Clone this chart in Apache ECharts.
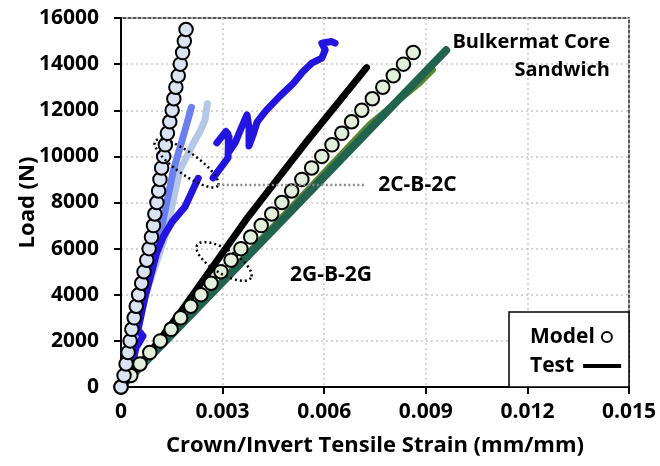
<!DOCTYPE html>
<html>
<head>
<meta charset="utf-8">
<script src="https://cdn.jsdelivr.net/npm/echarts@6/dist/echarts.min.js"></script>
<style>
  html, body { margin: 0; padding: 0; background: #fff; }
  #chart { width: 660px; height: 466px; }
</style>
</head>
<body>
<div id="chart"></div>
<script>
// Axis ticks
const strainTicks = [0, 0.003, 0.006, 0.009, 0.012, 0.015];
const loadTicks = [0, 2000, 4000, 6000, 8000, 10000, 12000, 14000, 16000];

// Model, 2C-B-2C (carbon skins)
const model2CLoad = [0, 500, 1000, 1500, 2000, 2500, 3000, 3500, 4000, 4500, 5000, 5500, 6000, 6500, 7000, 7500,
  8000, 8500, 9000, 9500, 10000, 10500, 11000, 11500, 12000, 12500, 13000, 13500, 14000, 14500, 15000, 15500];
const model2CStrain = [0, 0.00009, 0.00015, 0.00021, 0.00027, 0.00032, 0.00039, 0.00045, 0.00052, 0.00061, 0.00068,
  0.00076, 0.00083, 0.00090, 0.00096, 0.00100, 0.00106, 0.00111, 0.00115, 0.00120, 0.00126, 0.00131, 0.00137,
  0.00144, 0.00151, 0.00156, 0.00162, 0.00169, 0.00175, 0.00182, 0.00187, 0.00192];

// Model, 2G-B-2G (glass skins)
const model2GLoad = [0, 500, 1000, 1500, 2000, 2500, 3000, 3500, 4000, 4500, 5000, 5500, 6000, 6500, 7000, 7500,
  8000, 8500, 9000, 9500, 10000, 10500, 11000, 11500, 12000, 12500, 13000, 13500, 14000, 14500];
const model2GStrain = [0, 0.00029, 0.00056, 0.00085, 0.00116, 0.00148, 0.00176, 0.00206, 0.00236, 0.00266, 0.00295,
  0.00325, 0.00354, 0.00383, 0.00414, 0.00445, 0.00475, 0.00504, 0.00534, 0.00563, 0.00593, 0.00623, 0.00652,
  0.00681, 0.00711, 0.00742, 0.00773, 0.00804, 0.00834, 0.00863];

// Tests, 2G-B-2G
const testBlackStrain = [0, 0.00057, 0.00112, 0.00174, 0.00376, 0.00548, 0.00725];
const testBlackLoad   = [0, 1000, 2000, 3210, 7390, 10640, 13850];
const testTealStrain  = [0, 0.00480, 0.00960];
const testTealLoad    = [0, 7290, 14600];
const testOliveStrain = [0, 0.00233, 0.00470, 0.00735, 0.00883, 0.00921];
const testOliveLoad   = [0, 3600, 7290, 11410, 13190, 13750];

// Tests, 2C-B-2C
const testLightStrain  = [0, 0.00077, 0.00130, 0.00174, 0.00219, 0.00233, 0.00248, 0.00255];
const testLightLoad    = [0, 4210, 6520, 9410, 10720, 11060, 11580, 12280];
const testMediumStrain = [0, 0.00075, 0.00114, 0.00155, 0.00192, 0.00208];
const testMediumLoad   = [0, 4350, 6520, 9410, 11290, 12130];
const testDarkAStrain  = [0, 0.00032, 0.00044, 0.00065, 0.00050, 0.00071, 0.00105, 0.00125, 0.00151, 0.00189, 0.00228];
const testDarkALoad    = [0, 880, 1690, 2210, 2470, 3900, 5800, 6520, 7160, 7820, 9050];
const testDarkBStrain  = [0.00272, 0.00316, 0.00317, 0.00316, 0.00310, 0.00283, 0.00310, 0.00319, 0.00319, 0.00337,
  0.00354, 0.00372, 0.00378, 0.00378, 0.00390, 0.00402, 0.00430, 0.00470, 0.00509, 0.00537, 0.00563, 0.00593,
  0.00603, 0.00593, 0.00622, 0.00632];
const testDarkBLoad    = [9066, 9934, 10498, 10975, 11084, 10585, 11084, 10845, 10194, 10585,
  11192, 11799, 11235, 10455, 10932, 11496, 12016, 12624, 13175, 13665, 14042, 14259,
  14619, 14910, 14979, 14910];

const FONT = '"Open Sans", "Noto Sans", sans-serif';
const zip = (xs, ys) => xs.map((x, i) => [x, ys[i]]);

function testLine(name, xs, ys, color, width, z) {
  return {
    name: name, type: 'line', data: zip(xs, ys), symbol: 'none', showSymbol: false,
    lineStyle: { color: color, width: width, cap: 'round', join: 'round' },
    itemStyle: { color: color }, z: z, silent: true
  };
}
function modelPoints(xs, ys, fill) {
  return {
    name: 'Model', type: 'scatter', data: zip(xs, ys), symbol: 'circle', symbolSize: 13.5,
    itemStyle: { color: fill, borderColor: '#000', borderWidth: 2, opacity: 1 }, z: 5, silent: true
  };
}

const option = {
  animation: false,
  backgroundColor: '#fff',
  grid: { left: 121, top: 18, width: 508, height: 369, show: true, borderColor: '#222', borderWidth: 1.5 },
  xAxis: {
    type: 'value', min: strainTicks[0], max: strainTicks[strainTicks.length - 1],
    interval: strainTicks[1] - strainTicks[0],
    name: 'Crown/Invert Tensile Strain (mm/mm)', nameLocation: 'middle', nameGap: 48,
    nameTextStyle: { fontFamily: FONT, fontWeight: 'bold', fontSize: 22, color: '#000' },
    axisLine: { lineStyle: { color: '#000', width: 2 } },
    axisTick: { show: true, inside: false, length: 7, lineStyle: { color: '#000', width: 2 } },
    axisLabel: {
      margin: 15, fontFamily: FONT, fontWeight: 'bold', fontSize: 21, color: '#000',
      formatter: v => (v === 0 ? '0' : v.toFixed(3))
    },
    splitLine: { show: true, lineStyle: { color: '#c8c8c8', width: 1.5, type: [2, 3] } }
  },
  yAxis: {
    type: 'value', min: loadTicks[0], max: loadTicks[loadTicks.length - 1],
    interval: loadTicks[1] - loadTicks[0],
    name: 'Load (N)', nameLocation: 'middle', nameGap: 82, nameRotate: 90, nameMoveOverlap: false,
    nameTextStyle: { fontFamily: FONT, fontWeight: 'bold', fontSize: 22, color: '#000' },
    axisLine: { lineStyle: { color: '#000', width: 2 } },
    axisTick: { show: true, inside: false, length: 7, lineStyle: { color: '#000', width: 2 } },
    axisLabel: {
      margin: 22, fontFamily: FONT, fontWeight: 'bold', fontSize: 21, color: '#000',
      formatter: v => String(v)
    },
    splitLine: { show: true, lineStyle: { color: '#c8c8c8', width: 1.5, type: [2, 3] } }
  },
  legend: [
    {
      left: 530, top: 325, orient: 'horizontal', align: 'right', padding: 0, selectedMode: false, z: 12,
      itemWidth: 14, itemHeight: 10,
      textStyle: { fontFamily: FONT, fontWeight: 'bold', fontSize: 21, color: '#000', lineHeight: 24 },
      data: [{ name: 'Model', icon: 'circle', itemStyle: { color: '#fff', borderColor: '#000', borderWidth: 2 } }]
    },
    {
      left: 530, top: 354, orient: 'horizontal', align: 'right', padding: 0, selectedMode: false, z: 12,
      itemWidth: 38, itemHeight: 4,
      textStyle: { fontFamily: FONT, fontWeight: 'bold', fontSize: 21, color: '#000', lineHeight: 24, padding: [0, 4, 0, 0] },
      data: [{ name: 'Test', icon: 'rect', itemStyle: { color: '#000', borderWidth: 0 } }]
    }
  ],
  series: [
    testLine('Test', testBlackStrain, testBlackLoad, '#000000', 7, 3),
    testLine('Test', testOliveStrain, testOliveLoad, '#5a8733', 6, 2),
    testLine('Test', testTealStrain, testTealLoad, '#22634f', 8, 2),
    testLine('Test', testLightStrain, testLightLoad, '#b4c7e7', 7, 2),
    testLine('Test', testMediumStrain, testMediumLoad, '#6a7ff0', 7, 2),
    testLine('Test', testDarkAStrain, testDarkALoad, '#2414e0', 7, 3),
    testLine('Test', testDarkBStrain, testDarkBLoad, '#2414e0', 7, 3),
    modelPoints(model2GStrain, model2GLoad, '#e2efda'),
    modelPoints(model2CStrain, model2CLoad, '#dae3f3')
  ]
};

const chart = echarts.init(document.getElementById('chart'), null, { renderer: 'canvas' });
chart.setOption(option);

// Annotations: dotted ellipses grouping the two laminate families, a leader line and labels
const toPx = p => chart.convertToPixel({ gridIndex: 0 }, p);

function ellipsePts(center, a, b, deg) {
  const r = deg * Math.PI / 180, pts = [];
  for (let i = 0; i < 72; i++) {
    const t = i / 72 * Math.PI * 2;
    const ex = a * Math.cos(t), ey = b * Math.sin(t);
    pts.push([center[0] + ex * Math.cos(r) - ey * Math.sin(r), center[1] + ex * Math.sin(r) + ey * Math.cos(r)]);
  }
  return pts;
}

const ring2C = toPx([0.001934, 9696]);
const ring2G = toPx([0.003042, 5444]);
const leadA = toPx([0.00286, 8763]);
const leadB = toPx([0.00721, 8763]);
const dotted = { fill: 'none', stroke: '#000', lineWidth: 2.5, lineDash: [2, 3] };
const textFont = 'bold 21px ' + FONT;

chart.setOption({
  graphic: [
    { type: 'polygon', z: 20, silent: true, shape: { points: ellipsePts(ring2C, 38.5, 11, 35.5) }, style: dotted },
    { type: 'polygon', z: 20, silent: true, shape: { points: ellipsePts(ring2G, 31.5, 12, 31.4) }, style: dotted },
    { type: 'line', z: 20, silent: true, shape: { x1: leadA[0], y1: leadA[1], x2: leadB[0], y2: leadB[1] },
      style: { stroke: '#8a8a8a', lineWidth: 2.5, lineDash: [2, 2.5] } },
    { type: 'text', z: 20, silent: true,
      style: { text: '2C-B-2C', x: leadB[0] + 13, y: leadB[1], font: textFont, fill: '#000', textVerticalAlign: 'middle' } },
    { type: 'text', z: 20, silent: true,
      style: { text: '2G-B-2G', x: 290, y: 275, font: textFont, fill: '#000', textVerticalAlign: 'middle' } },
    { type: 'text', z: 20, silent: true,
      style: { text: 'Bulkermat Core\nSandwich', x: 610, y: 28, font: 'bold 20px ' + FONT, fill: '#000',
               textAlign: 'right', textVerticalAlign: 'top', lineHeight: 28 } },
    { type: 'rect', z: 10, silent: true, shape: { x: 509, y: 312, width: 120, height: 75 },
      style: { fill: '#fff', stroke: '#000', lineWidth: 1.5 } }
  ]
});
</script>
</body>
</html>
